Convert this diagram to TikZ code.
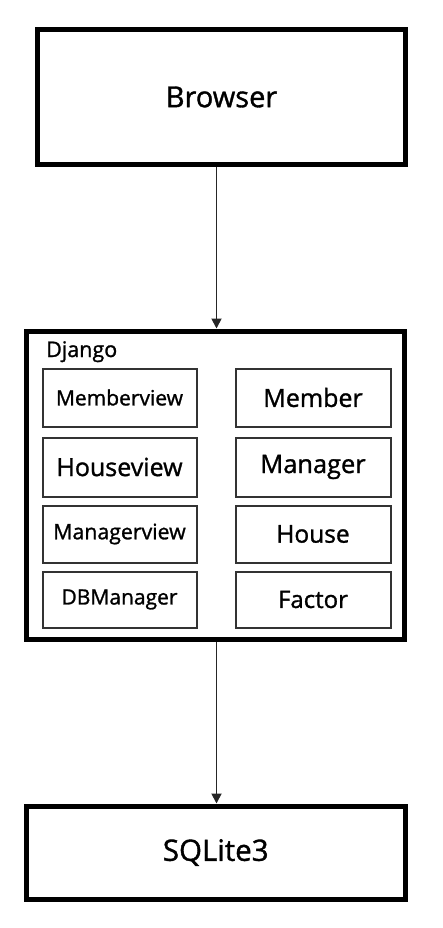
\documentclass[tikz,border=0pt]{standalone}
\usepackage{fontspec}
\setmainfont{Open Sans}
\newfontfamily\labelfont[FakeBold=1.2]{Open Sans}
\usetikzlibrary{arrows.meta}
\begin{document}
\begin{tikzpicture}[x=1pt,y=-1pt,
  bigbox/.style={draw,line width=5pt,inner sep=0pt},
  smallbox/.style={draw=black!80,line width=2pt,inner sep=0pt,minimum width=154pt},
  arr/.style={line width=1.8pt,draw=black!85,-{Triangle[width=10pt,length=10pt]}}]
\useasboundingbox (0,0) rectangle (442,928);
\node[bigbox,minimum width=368pt,minimum height=134.5pt,font=\labelfont\fontsize{29}{34}\selectfont] (browser) at (221.5,97) {Browser};
\node[bigbox,minimum width=378.5pt,minimum height=308pt] (django) at (215.25,485) {};
\node[bigbox,minimum width=379.5pt,minimum height=93pt,font=\labelfont\fontsize{29.5}{34}\selectfont] (sqlite) at (215.75,852.5) {SQLite3};
\node[anchor=base west,font=\labelfont\fontsize{21.5}{26}\selectfont,inner sep=0pt] (djlabel) at (46,357) {Django};
\node[smallbox,minimum height=58pt,font=\labelfont\fontsize{21}{25}\selectfont] (memberview) at (119.5,397.5) {Memberview};
\node[smallbox,minimum height=59pt,font=\labelfont\fontsize{25}{30}\selectfont] (houseview) at (119.5,467) {Houseview};
\node[smallbox,minimum height=57pt,font=\labelfont\fontsize{21.3}{25}\selectfont] (managerview) at (119.5,534) {Managerview};
\node[smallbox,minimum height=56pt,font=\labelfont\fontsize{21}{25}\selectfont] (dbmanager) at (119.5,599.5) {DBManager};
\node[smallbox,minimum width=155pt,minimum height=58pt,font=\labelfont\fontsize{25}{30}\selectfont] (member) at (313,397.5) {Member};
\node[smallbox,minimum width=155pt,minimum height=59pt,font=\labelfont\fontsize{25.4}{30}\selectfont] (manager) at (313,467) {Manager};
\node[smallbox,minimum width=155pt,minimum height=57pt,font=\labelfont\fontsize{24.5}{30}\selectfont] (house) at (313,534) {House};
\node[smallbox,minimum width=155pt,minimum height=56pt,font=\labelfont\fontsize{24}{30}\selectfont] (factor) at (313,599.5) {Factor};
\coordinate (ax) at (216.5,0);
\draw[arr] (browser.south -| ax) -- (django.north -| ax);
\draw[arr] (django.south -| ax) -- (sqlite.north -| ax);
\end{tikzpicture}
\end{document}
